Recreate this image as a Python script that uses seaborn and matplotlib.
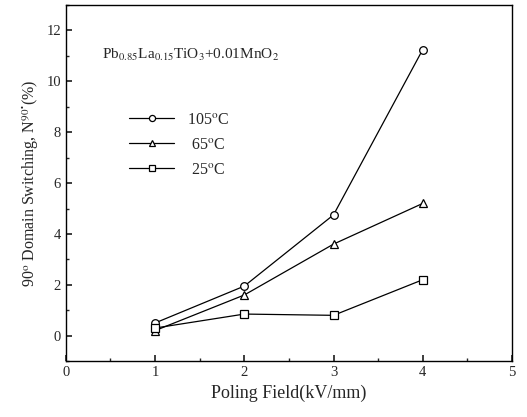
import numpy as np
import pandas as pd
import matplotlib
matplotlib.use("Agg")
import matplotlib.pyplot as plt
import seaborn as sns
from matplotlib.ticker import MultipleLocator

# data
field = [1, 2, 3, 4]
sw_105 = [0.5, 1.95, 4.75, 11.25]
sw_65 = [0.2, 1.6, 3.6, 5.2]
sw_25 = [0.3, 0.85, 0.8, 2.2]
labels = ["105$^{\\rm o}$C", " 65$^{\\rm o}$C", " 25$^{\\rm o}$C"]

sns.set_theme(style="ticks")
plt.rcParams["font.family"] = ["Liberation Serif", "DejaVu Serif"]
plt.rcParams["mathtext.fontset"] = "stix"

fig = plt.figure(figsize=(5.27, 4.17), dpi=100)
ax = fig.add_axes([0.125, 0.134, 0.8465, 0.854])

series = [(sw_105, "o", labels[0]), (sw_65, "^", labels[1]), (sw_25, "s", labels[2])]
for vals, mk, lab in series:
    df = pd.DataFrame({"x": field, "y": vals})
    sns.lineplot(data=df, x="x", y="y", ax=ax, color="black", lw=0.9,
                 marker=mk, markersize=5.5, markerfacecolor="white",
                 markeredgecolor="black", markeredgewidth=0.9, label=lab)

ax.set_xlim(0, 5)
ax.set_ylim(-1, 13)
ax.xaxis.set_major_locator(MultipleLocator(1))
ax.xaxis.set_minor_locator(MultipleLocator(0.5))
ax.yaxis.set_major_locator(MultipleLocator(2))
ax.yaxis.set_minor_locator(MultipleLocator(1))
ax.tick_params(which="both", direction="in", top=False, right=False, labelsize=10.5)
ax.tick_params(which="major", length=4)
ax.tick_params(which="minor", length=2)
for s in ax.spines.values():
    s.set_linewidth(1.0)
    s.set_color("black")

ax.set_xlabel("Poling Field(kV/mm)", fontsize=13)
ax.set_ylabel("90$^{\\rm o}$ Domain Switching, N$^{90^{\\bullet}}$(%)", fontsize=11.5)

ax.text(0.08, 0.85, "Pb$_{0.85}$La$_{0.15}$TiO$_3$+0.01MnO$_2$", transform=ax.transAxes,
        fontsize=11)

leg = ax.legend(loc="upper left", bbox_to_anchor=(0.11, 0.74), frameon=False,
                handlelength=2.8, fontsize=11.5, labelspacing=0.55, markerscale=0.8)

fig.savefig("out.png", dpi=100)
